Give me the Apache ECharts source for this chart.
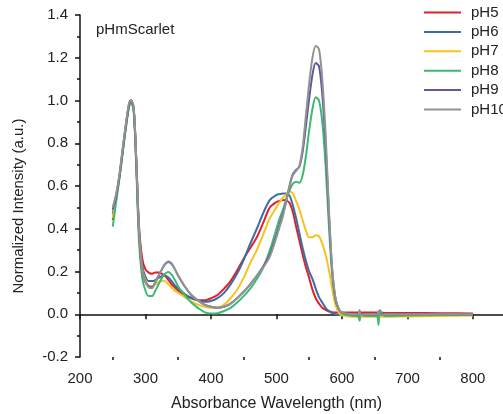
<!DOCTYPE html>
<html>
<head>
<meta charset="utf-8">
<script src="https://cdn.jsdelivr.net/npm/echarts@6/dist/echarts.min.js"></script>
<style>
    html, body { margin: 0; padding: 0; background: #fff; }
    #main { width: 503px; height: 414px; }
</style>
</head>
<body>
<div id="main"></div>
<script>
// 波长 (nm)
const wavelengths = [250, 255, 260, 265, 270, 275, 278, 282, 286, 290, 295,
    300, 305, 310, 315, 320, 325, 330, 335, 340, 345, 350,
    360, 370, 380, 390, 400, 410, 420, 430, 440, 450, 460, 470, 480, 490,
    500, 505, 510, 515, 520, 525, 530, 535, 540, 545, 550, 555, 560, 565, 570, 575, 580, 585, 590, 595, 600,
    610, 620, 625, 627, 629, 635, 650, 654, 656, 658, 665, 700, 750, 800];

const seriesNames = ['pH5', 'pH6', 'pH7', 'pH8', 'pH9', 'pH10'];
const seriesColors = ['#e41f26', '#3b6ea5', '#f7c41f', '#3dba72', '#5c5a9c', '#939393'];

const pH5 = [0.44, 0.54, 0.64, 0.76, 0.88, 0.98, 1.0, 0.96, 0.72, 0.42, 0.26,
    0.21, 0.195, 0.19, 0.195, 0.195, 0.19, 0.18, 0.16, 0.14, 0.125, 0.11,
    0.09, 0.075, 0.066, 0.065, 0.075, 0.09, 0.12, 0.155, 0.205, 0.26, 0.31, 0.36, 0.43, 0.50,
    0.525, 0.53, 0.535, 0.533, 0.52, 0.48, 0.41, 0.345, 0.28, 0.22, 0.17, 0.115, 0.075, 0.05, 0.03, 0.02, 0.014, 0.01, 0.008, 0.008, 0.008,
    0.008, 0.008, 0.008, 0.008, 0.008, 0.008, 0.008, 0.008, 0.008, 0.008, 0.007, 0.006, 0.005, 0.004];

const pH6 = [0.47, 0.55, 0.64, 0.76, 0.88, 0.98, 1.0, 0.96, 0.71, 0.40, 0.23,
    0.175, 0.155, 0.155, 0.16, 0.17, 0.178, 0.18, 0.172, 0.155, 0.135, 0.12,
    0.095, 0.077, 0.065, 0.058, 0.062, 0.075, 0.10, 0.14, 0.19, 0.255, 0.33, 0.40, 0.475, 0.535,
    0.558, 0.562, 0.565, 0.565, 0.555, 0.51, 0.45, 0.38, 0.31, 0.25, 0.20, 0.165, 0.12, 0.08, 0.055, 0.03, 0.015, 0.005, 0.0, -0.003, -0.004,
    -0.004, -0.004, -0.004, -0.004, -0.004, -0.004, -0.004, -0.004, -0.004, -0.004, -0.004, -0.003, -0.002, -0.002];

const pH7 = [0.45, 0.54, 0.64, 0.76, 0.88, 0.98, 1.0, 0.96, 0.70, 0.39, 0.21,
    0.16, 0.135, 0.13, 0.14, 0.15, 0.157, 0.155, 0.14, 0.125, 0.11, 0.10,
    0.08, 0.06, 0.045, 0.035, 0.03, 0.03, 0.045, 0.075, 0.115, 0.17, 0.24, 0.30, 0.375, 0.45,
    0.50, 0.525, 0.545, 0.56, 0.575, 0.565, 0.53, 0.49, 0.44, 0.39, 0.36, 0.36, 0.37, 0.365, 0.33, 0.28, 0.21, 0.12, 0.045, 0.01, -0.005,
    -0.01, -0.012, -0.012, -0.012, -0.012, -0.012, -0.012, -0.012, -0.012, -0.012, -0.012, -0.01, -0.008, -0.006];

const pH8 = [0.41, 0.52, 0.63, 0.75, 0.87, 0.97, 0.99, 0.95, 0.68, 0.35, 0.17,
    0.11, 0.085, 0.085, 0.11, 0.14, 0.17, 0.19, 0.198, 0.185, 0.16, 0.13,
    0.09, 0.055, 0.03, 0.01, 0.003, 0.005, 0.015, 0.03, 0.055, 0.085, 0.12, 0.165, 0.22, 0.30,
    0.40, 0.45, 0.49, 0.54, 0.58, 0.61, 0.62, 0.615, 0.65, 0.74, 0.86, 0.96, 1.015, 1.0, 0.90, 0.70, 0.42, 0.19, 0.07, 0.025, 0.005,
    -0.005, -0.008, -0.01, -0.03, 0.0, -0.008, -0.008, -0.01, -0.05, 0.02, -0.008, -0.006, -0.004, -0.003];

const pH9 = [0.49, 0.55, 0.64, 0.76, 0.88, 0.98, 1.0, 0.96, 0.71, 0.39, 0.20,
    0.15, 0.13, 0.128, 0.15, 0.18, 0.21, 0.235, 0.245, 0.235, 0.21, 0.18,
    0.13, 0.09, 0.065, 0.045, 0.035, 0.03, 0.035, 0.05, 0.075, 0.105, 0.14, 0.18, 0.225, 0.28,
    0.37, 0.42, 0.47, 0.53, 0.60, 0.655, 0.675, 0.69, 0.76, 0.88, 1.01, 1.12, 1.175, 1.16, 1.03, 0.80, 0.48, 0.21, 0.075, 0.025, 0.008,
    0.002, 0.0, 0.0, 0.005, 0.0, 0.0, 0.0, 0.0, 0.0, 0.0, 0.0, 0.0, 0.0, 0.0];

const pH10 = [0.50, 0.56, 0.65, 0.77, 0.89, 0.99, 1.0, 0.97, 0.72, 0.40, 0.20,
    0.15, 0.125, 0.122, 0.15, 0.18, 0.21, 0.235, 0.248, 0.238, 0.21, 0.18,
    0.13, 0.09, 0.065, 0.045, 0.035, 0.03, 0.035, 0.05, 0.075, 0.105, 0.14, 0.18, 0.22, 0.27,
    0.36, 0.41, 0.46, 0.53, 0.60, 0.65, 0.67, 0.695, 0.78, 0.93, 1.08, 1.20, 1.255, 1.24, 1.10, 0.85, 0.50, 0.22, 0.08, 0.025, 0.008,
    0.002, 0.0, 0.0, 0.02, -0.005, 0.0, 0.0, 0.0, 0.015, -0.005, 0.0, 0.0, 0.0, 0.0];

const xMajorTicks = [200, 300, 400, 500, 600, 700, 800];
const xMinorTicks = [250, 350, 450, 550, 650, 750];

const allValues = [pH5, pH6, pH7, pH8, pH9, pH10];
const FONT = '"Liberation Sans", Arial, sans-serif';

const chart = echarts.init(document.getElementById('main'));

const series = seriesNames.map((name, i) => ({
    name: name,
    type: 'line',
    xAxisIndex: 0,
    data: wavelengths.map((w, j) => [w, allValues[i][j]]),
    showSymbol: false,
    symbol: 'none',
    smooth: 0.3,
    lineStyle: { width: 2, color: seriesColors[i] },
    itemStyle: { color: seriesColors[i] }
}));

const option = {
    animation: false,
    backgroundColor: '#fff',
    title: {
        text: 'pHmScarlet',
        left: 91,
        top: 17,
        textStyle: { fontFamily: FONT, fontSize: 15, fontWeight: 'normal', color: '#222' }
    },
    legend: {
        orient: 'vertical',
        left: 419,
        top: 0,
        icon: 'rect',
        itemWidth: 37,
        itemHeight: 2,
        itemGap: 4.4,
        textStyle: { fontFamily: FONT, fontSize: 15, lineHeight: 14, color: '#222', padding: [0, 0, 0, 5] },
        data: seriesNames
    },
    // 关闭 v6 的外边界自动收缩
    grid: { left: 80, right: 0, top: 15, bottom: 57, outerBoundsMode: 'none' },
    xAxis: [{
        type: 'value',
        min: 200,
        max: 846,
        interval: 100,
        name: 'Absorbance Wavelength (nm)',
        nameLocation: 'middle',
        nameGap: 39,
        nameTextStyle: { fontFamily: FONT, fontSize: 16, color: '#222', padding: [0, 30, 0, 0] },
        splitLine: { show: false },
        axisLine: { lineStyle: { color: '#111', width: 1.5 } },
        axisTick: { customValues: xMajorTicks, length: 5, lineStyle: { color: '#111', width: 1.5 } },
        axisLabel: { customValues: xMajorTicks, margin: 14, fontFamily: FONT, fontSize: 15, color: '#222' }
    }, {
        // 次刻度
        type: 'value',
        min: 200,
        max: 846,
        position: 'bottom',
        splitLine: { show: false },
        axisLine: { show: false },
        axisTick: { customValues: xMinorTicks, length: 3, lineStyle: { color: '#111', width: 1.5 } },
        axisLabel: { show: false }
    }],
    yAxis: {
        type: 'value',
        min: -0.2,
        max: 1.4,
        interval: 0.2,
        name: 'Normalized Intensity (a.u.)',
        nameLocation: 'middle',
        nameGap: 54,
        nameTextStyle: { fontFamily: FONT, fontSize: 15, color: '#222', padding: [0, 40, 0, 0] },
        splitLine: { show: false },
        axisLine: { show: true, lineStyle: { color: '#111', width: 1.5 } },
        axisTick: { show: true, length: 5, lineStyle: { color: '#111', width: 1.5 } },
        minorTick: { show: true, splitNumber: 2, length: 3, lineStyle: { color: '#111', width: 1.5 } },
        axisLabel: {
            margin: 12,
            fontFamily: FONT,
            fontSize: 15,
            color: '#222',
            formatter: v => v.toFixed(1)
        }
    },
    series: series
};

chart.setOption(option);
</script>
</body>
</html>
